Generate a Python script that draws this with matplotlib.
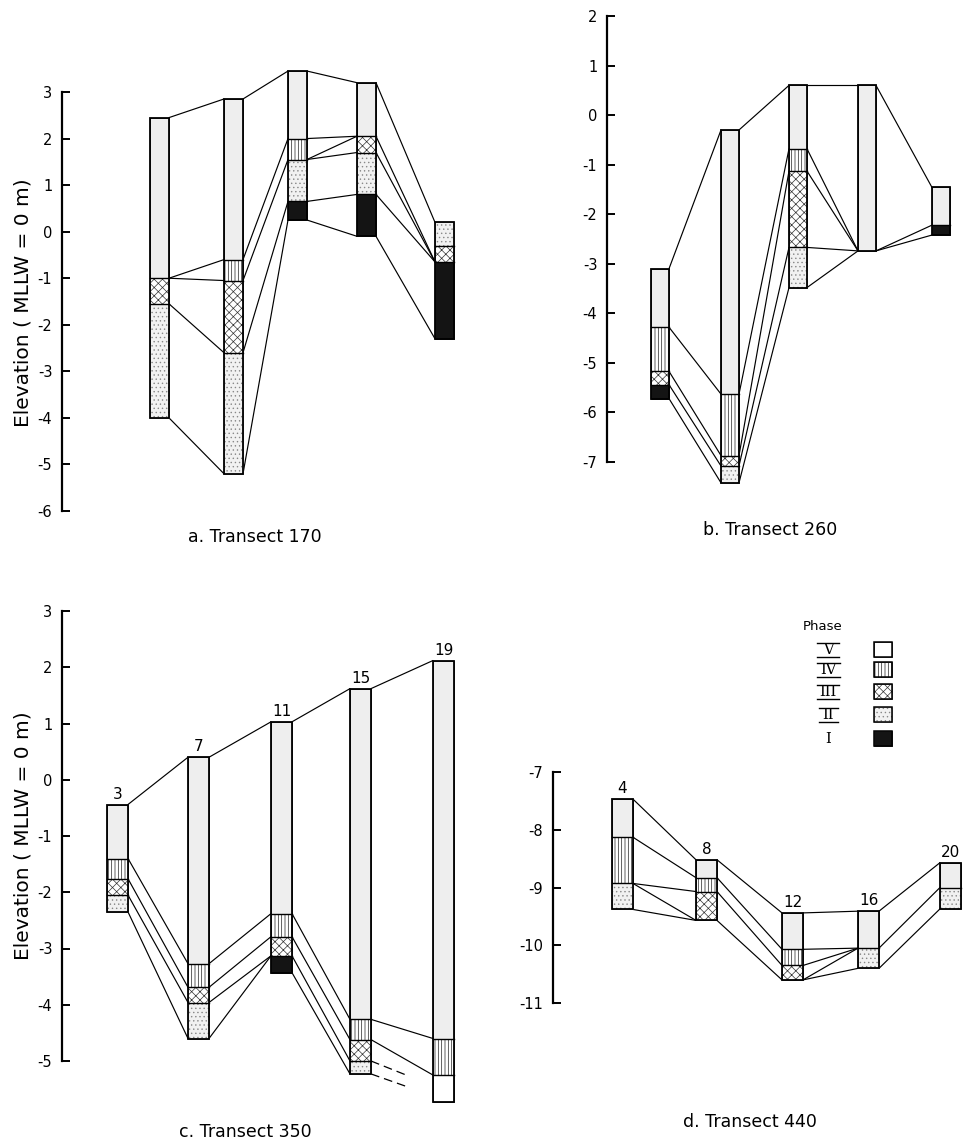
import matplotlib
matplotlib.use("Agg")
import matplotlib.pyplot as plt
from matplotlib.patches import Rectangle

plt.rcParams["font.family"] = ["DejaVu Sans"]
plt.rcParams["axes.unicode_minus"] = False
plt.rcParams["hatch.linewidth"] = 0.5

W, H = 963, 1145

# ---- elevations (m, MLLW = 0) of each core: top, layer boundaries, base ----
A_BOUNDS = [[2.45, -1.0, -1.55, -4.0],
            [2.85, -0.6, -1.05, -2.6, -5.2],
            [3.45, 2.0, 1.55, 0.65, 0.25],
            [3.2, 2.05, 1.7, 0.8, -0.1],
            [0.2, -0.3, -0.65, -2.3]]
A_PHASES = [["V", "III", "II"],
            ["V", "IV", "III", "II"],
            ["V", "IV", "II", "I"],
            ["V", "III", "II", "I"],
            ["II", "III", "I"]]
# (core index, elevation on its right edge, elevation on next core's left edge)
A_LINKS = [(0, 2.45, 2.85), (0, -1.0, -0.6), (0, -1.0, -1.05), (0, -1.55, -2.6), (0, -4.0, -5.2),
           (1, 2.85, 3.45), (1, -0.6, 2.0), (1, -1.05, 1.55), (1, -2.6, 0.65), (1, -5.2, 0.25),
           (2, 3.45, 3.2), (2, 2.0, 2.05), (2, 1.55, 2.05), (2, 1.55, 1.7), (2, 0.65, 0.8),
           (2, 0.25, -0.1),
           (3, 3.2, 0.2), (3, 2.05, -0.65), (3, 1.7, -0.65), (3, 0.8, -0.65), (3, -0.1, -2.3)]

B_BOUNDS = [[-3.1, -4.28, -5.17, -5.44, -5.72],
            [-0.3, -5.63, -6.87, -7.08, -7.42],
            [0.6, -0.68, -1.13, -2.67, -3.48],
            [0.6, -2.74],
            [-1.46, -2.22, -2.42]]
B_PHASES = [["V", "IV", "III", "I"],
            ["V", "IV", "III", "II"],
            ["V", "IV", "III", "II"],
            ["V"],
            ["V", "I"]]
B_LINKS = [(0, -3.1, -0.3), (0, -4.28, -5.63), (0, -5.17, -6.87), (0, -5.44, -7.08), (0, -5.72, -7.42),
           (1, -0.3, 0.6), (1, -5.63, -0.68), (1, -6.87, -1.13), (1, -7.08, -2.67), (1, -7.42, -3.48),
           (2, 0.6, 0.6), (2, -0.68, -2.74), (2, -1.13, -2.74), (2, -2.67, -2.74), (2, -3.48, -2.74),
           (3, 0.6, -1.46), (3, -2.74, -2.22), (3, -2.74, -2.42)]

C_CORES = ["3", "7", "11", "15", "19"]
C_BOUNDS = [[-0.44, -1.4, -1.76, -2.05, -2.35],
            [0.4, -3.27, -3.69, -3.96, -4.6],
            [1.03, -2.38, -2.79, -3.13, -3.43],
            [1.62, -4.26, -4.62, -5.0, -5.23],
            [2.12, -4.6, -5.25, -5.72]]
C_PHASES = [["V", "IV", "III", "II"],
            ["V", "IV", "III", "II"],
            ["V", "IV", "III", "I"],
            ["V", "IV", "III", "II"],
            ["V", "IV", None]]
C_LINKS = [(0, -0.44, 0.4), (0, -1.4, -3.27), (0, -1.76, -3.69), (0, -2.05, -3.96), (0, -2.35, -4.6),
           (1, 0.4, 1.03), (1, -3.27, -2.38), (1, -3.69, -2.79), (1, -3.96, -3.13), (1, -4.6, -3.13),
           (2, 1.03, 1.62), (2, -2.38, -4.26), (2, -2.79, -4.62), (2, -3.13, -5.0), (2, -3.43, -5.23),
           (3, 1.62, 2.12), (3, -4.26, -4.6), (3, -4.62, -5.25)]
C_DASHED = [(3, -5.0, -5.44), (3, -5.23, -5.62)]

D_CORES = ["4", "8", "12", "16", "20"]
D_BOUNDS = [[-7.47, -8.13, -8.93, -9.38],
            [-8.52, -8.83, -9.07, -9.57],
            [-9.44, -10.07, -10.35, -10.6],
            [-9.41, -10.05, -10.4],
            [-8.57, -9.0, -9.37]]
D_PHASES = [["V", "IV", "II"],
            ["V", "IV", "III"],
            ["V", "IV", "III"],
            ["V", "II"],
            ["V", "II"]]
D_LINKS = [(0, -7.47, -8.52), (0, -8.13, -8.83), (0, -8.93, -9.07), (0, -8.93, -9.57), (0, -9.38, -9.57),
           (1, -8.52, -9.44), (1, -8.83, -10.07), (1, -9.07, -10.35), (1, -9.57, -10.6),
           (2, -9.44, -9.41), (2, -10.07, -10.05), (2, -10.35, -10.05), (2, -10.6, -10.05),
           (2, -10.6, -10.4),
           (3, -9.41, -8.57), (3, -10.05, -9.0), (3, -10.4, -9.37)]

PHASES = ["V", "IV", "III", "II", "I"]

# fill style for each phase
STYLE = {
    "V": dict(facecolor="#eeeeee", hatch=None, edgecolor="#222222"),
    "IV": dict(facecolor="white", hatch="|||||", edgecolor="#222222"),
    "III": dict(facecolor="white", hatch="xxxx", edgecolor="#333333"),
    "II": dict(facecolor="#f1f1f1", hatch="....", edgecolor="#888888"),
    "I": dict(facecolor="#141414", hatch=None, edgecolor="#141414"),
    None: dict(facecolor="white", hatch=None, edgecolor="#222222"),
}

fig = plt.figure(figsize=(W / 100, H / 100), dpi=100)

# full-figure axes in pixel units for titles and the phase key
bg = fig.add_axes([0, 0, 1, 1], zorder=0)
bg.set_xlim(0, W)
bg.set_ylim(H, 0)
bg.axis("off")


def make_panel(spine_x, right_x, px_top, px_bot, v_top, v_bot, pad_top, pad_bot):
    scale = (px_bot - px_top) / (v_top - v_bot)
    y0 = px_top - pad_top
    y1 = px_bot + pad_bot
    ax = fig.add_axes([spine_x / W, 1 - y1 / H, (right_x - spine_x) / W, (y1 - y0) / H],
                      zorder=1)
    ax.patch.set_alpha(0)
    ax.set_xlim(0, right_x - spine_x)
    ax.set_ylim(v_bot - pad_bot / scale, v_top + pad_top / scale)
    for s in ["top", "right", "bottom"]:
        ax.spines[s].set_visible(False)
    ax.spines["left"].set_linewidth(1.6)
    ax.spines["left"].set_bounds(v_bot, v_top)
    ax.set_xticks([])
    ax.set_yticks(range(int(v_bot), int(v_top) + 1))
    ax.tick_params(axis="y", direction="in", length=6, width=1.4, labelsize=10.5, pad=7)
    return ax


def draw_cores(ax, lefts, width, bounds, phases, links, names=None, dashed=None):
    for i, y0, y1 in links:
        ax.plot([lefts[i] + width, lefts[i + 1]], [y0, y1], color="black", lw=0.85,
                solid_capstyle="round", zorder=2)
    if dashed:
        # broken correlation lines that stop short of the next core
        for i, y0, y1 in dashed:
            x0 = lefts[i] + width
            x1 = lefts[i + 1]
            f = 0.55
            ax.plot([x0, x0 + f * (x1 - x0)], [y0, y0 + f * (y1 - y0)], color="black",
                    lw=0.9, ls=(0, (7, 4)), zorder=2)
    for j, (b, ph) in enumerate(zip(bounds, phases)):
        x = lefts[j]
        for k, p in enumerate(ph):
            st = STYLE[p]
            ax.add_patch(Rectangle((x, b[k + 1]), width, b[k] - b[k + 1], lw=0.6, zorder=3,
                                   **st))
        for yb in b[1:-1]:
            ax.plot([x, x + width], [yb, yb], color="black", lw=1.0, zorder=4)
        ax.add_patch(Rectangle((x, b[-1]), width, b[0] - b[-1], fill=False,
                               edgecolor="black", lw=1.3, zorder=5))
        if names:
            ax.annotate(names[j], (x + width / 2, b[0]), xytext=(0, 2),
                        textcoords="offset points", ha="center", va="bottom", fontsize=11)


# a. Transect 170
ax_a = make_panel(62, 470, 92, 511, 3, -6, 40, 20)
draw_cores(ax_a, [88, 162, 226, 295, 373], 19, A_BOUNDS, A_PHASES, A_LINKS)

# b. Transect 260
ax_b = make_panel(607, 963, 16, 462, 2, -7, 10, 25)
draw_cores(ax_b, [44, 114, 182, 251, 325], 18, B_BOUNDS, B_PHASES, B_LINKS)

# c. Transect 350
ax_c = make_panel(62, 480, 611, 1061, 3, -5, 30, 50)
draw_cores(ax_c, [45, 126, 209, 288, 371], 21, C_BOUNDS, C_PHASES, C_LINKS, C_CORES, C_DASHED)

# d. Transect 440
ax_d = make_panel(553, 963, 772, 1003, -7, -11, 30, 10)
draw_cores(ax_d, [59, 143, 229, 305, 387], 21, D_BOUNDS, D_PHASES, D_LINKS, D_CORES)

# panel captions and axis titles
for x, y, s in [(255, 537, "a. Transect 170"), (770, 530, "b. Transect 260"),
                (245, 1132, "c. Transect 350"), (750, 1122, "d. Transect 440")]:
    bg.text(x, y, s, ha="center", va="center", fontsize=12.5)
for y in [303, 836]:
    bg.text(23, y, "Elevation ( MLLW = 0 m)", ha="center", va="center", rotation=90,
            fontsize=14.5)

# phase key
bg.text(823, 627, "Phase", ha="center", va="center", fontsize=9.5)
key_y = [650, 670, 692, 715, 739]
key_w = [22, 23, 22, 19, 9]
for p, yc, w in zip(PHASES, key_y, key_w):
    bg.text(828, yc, p, ha="center", va="center", fontsize=10.5, family="DejaVu Serif")
    if p != "I":
        bg.plot([828 - w / 2, 828 + w / 2], [yc - 7, yc - 7], color="black", lw=1.0)
        bg.plot([828 - w / 2, 828 + w / 2], [yc + 7, yc + 7], color="black", lw=1.0)
    st = STYLE[p]
    bg.add_patch(Rectangle((874, yc + 7), 18, -15, lw=0.6,
                           facecolor="white" if p == "V" else st["facecolor"],
                           hatch=st["hatch"], edgecolor=st["edgecolor"]))
    bg.add_patch(Rectangle((874, yc + 7), 18, -15, fill=False, edgecolor="black", lw=1.1))

fig.savefig("out.png", dpi=100)
